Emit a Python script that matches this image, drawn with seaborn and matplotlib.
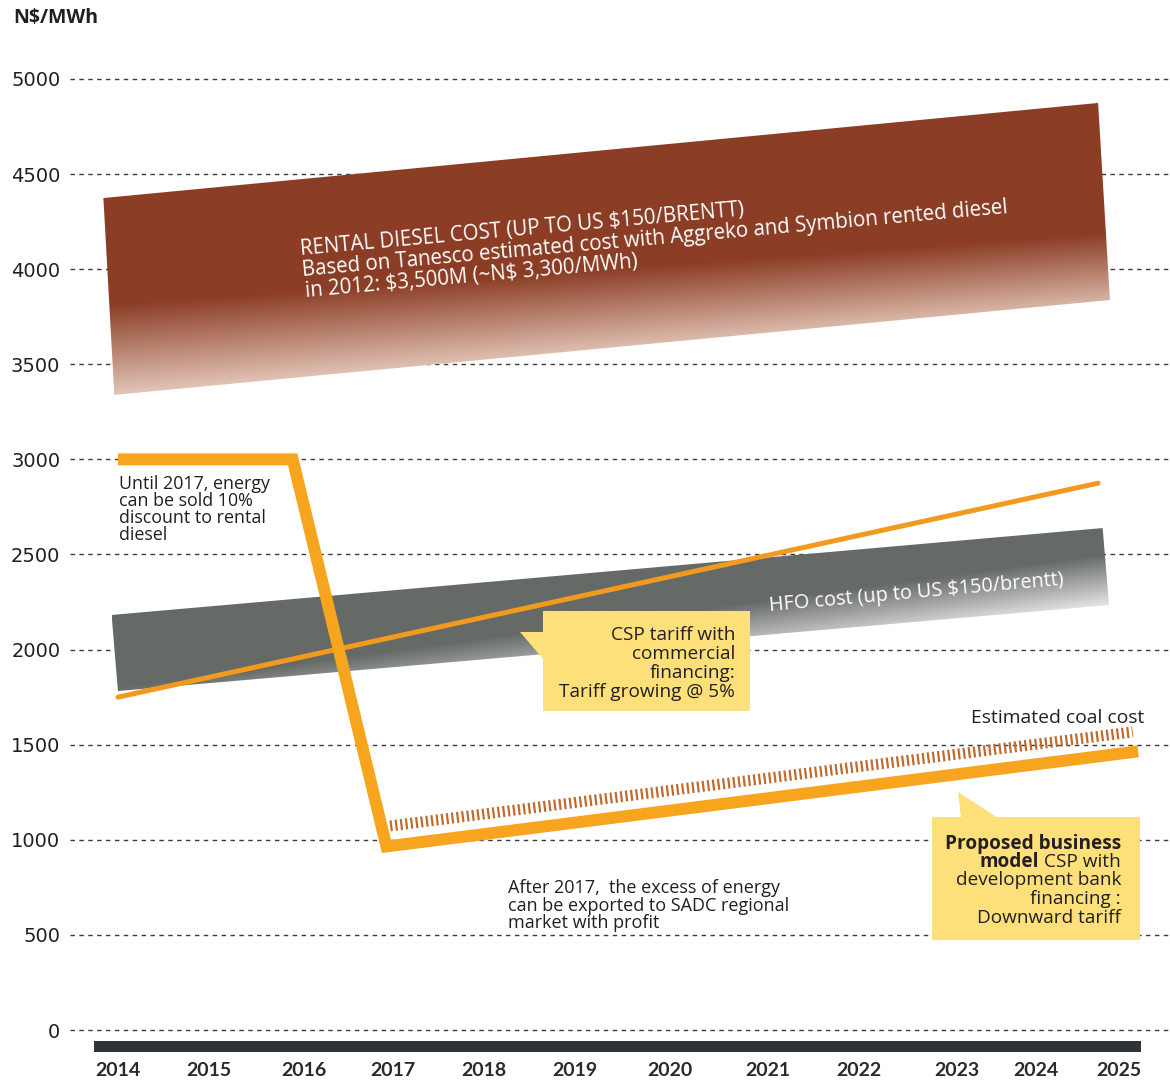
import numpy as np
import matplotlib
matplotlib.use('Agg')
import matplotlib.pyplot as plt
import seaborn as sns
from matplotlib.patches import Polygon, Rectangle
from matplotlib.colors import to_rgb

# ---------------- data ----------------
year_labels = ['2014', '2015', '2016', '2017', '2018', '2019', '2020',
               '2021', '2022', '2023', '2024', '2025']
year_tick_pos = [2014.0, 2015.0, 2016.04, 2017.02, 2018.02, 2019.02, 2020.07,
                 2021.14, 2022.14, 2023.22, 2024.09, 2025.0]
y_ticks = [0, 500, 1000, 1500, 2000, 2500, 3000, 3500, 4000, 4500, 5000]

# CSP with development bank financing (thick orange)
csp_dev_x = [2014.0, 2015.92, 2016.95, 2025.21]
csp_dev_y = [3000, 3000, 965, 1465]
# CSP with commercial financing (thin orange)
csp_com_x = [2014.0, 2024.77]
csp_com_y = [1750, 2875]
# Estimated coal cost (striped)
coal_x = [2016.99, 2025.15]
coal_y = [1073, 1567]
# Rental diesel cost band (polygon corners)
diesel_x = [2013.84, 2024.77, 2024.90, 2013.96]
diesel_y = [4374, 4874, 3838, 3339]
# HFO cost band (polygon corners)
hfo_x = [2013.93, 2024.82, 2024.89, 2014.0]
hfo_y = [2182, 2639, 2234, 1782]

# ---------------- style ----------------
W, H = 1170, 1081
TXT = '#231F20'
sns.set_theme(style='white')
plt.rcParams['font.family'] = ['Open Sans', 'DejaVu Sans']

fig = plt.figure(figsize=(W / 100, H / 100), dpi=100)
ax = fig.add_axes([70 / W, (H - 1055) / H, 1100 / W, 995 / H])


def dx(px):
    return 2014 + (px - 118) / 91.0


def dy(py):
    return (1030 - py) / 0.1902


def ft(x, y, s, **kw):
    kw.setdefault('parse_math', False)
    return fig.text(x / W, 1 - y / H, s, **kw)


def gradient_band(px, py, base, light, line0, line1, z):
    poly = Polygon(np.column_stack([px, py]), closed=True,
                   facecolor='none', edgecolor='none')
    ax.add_patch(poly)
    x0, x1 = min(px), max(px)
    y0, y1 = min(py), max(py)
    xs = np.linspace(x0, x1, 400)
    ys = np.linspace(y0, y1, 400)
    X, Y = np.meshgrid(xs, ys)

    def lin(l, X):
        (xa, ya), (xb, yb) = l
        return ya + (yb - ya) * (X - xa) / (xb - xa)
    L0 = lin(line0, X)
    L1 = lin(line1, X)
    f = np.clip((L0 - Y) / (L0 - L1), 0, 1)
    b = np.array(to_rgb(base))
    l = np.array(to_rgb(light))
    img = b[None, None, :] * (1 - f[..., None]) + l[None, None, :] * f[..., None]
    im = ax.imshow(img, extent=(x0, x1, y0, y1), origin='lower',
                   aspect='auto', zorder=z, interpolation='bilinear')
    im.set_clip_path(poly)


# bands
gradient_band(diesel_x, diesel_y, '#8B3D25', '#ECD3C6',
              ((2014, 3820), (2024.9, 4190)), ((2014, 3290), (2024.9, 3740)), 2)
gradient_band(hfo_x, hfo_y, '#656A67', '#F4F4F4',
              ((2014, 1800), (2024.9, 2500)), ((2014, 1450), (2024.9, 2200)), 2)

# lines
sns.lineplot(x=csp_com_x, y=csp_com_y, ax=ax, color='#F29A1E', lw=3.6,
             sort=False, estimator=None, zorder=4)
sns.lineplot(x=coal_x, y=coal_y, ax=ax, color='#BF6A2E', lw=7.9,
             ls=(0, (0.2, 0.27)), sort=False, estimator=None, zorder=4)
sns.lineplot(x=csp_dev_x, y=csp_dev_y, ax=ax, color='#F7A51F', lw=8.6,
             sort=False, estimator=None, zorder=5,
             solid_joinstyle='miter', solid_capstyle='butt')

# axes cosmetics
ax.set_xlim(2013.473, 2025.560)
ax.set_ylim(-131.4, 5099.8)
for s in ax.spines.values():
    s.set_visible(False)
ax.set_yticks(y_ticks)
ax.set_yticklabels([str(v) for v in y_ticks], fontsize=14, color=TXT,
                   family=['DejaVu Sans'])
ax.tick_params(axis='y', length=0, pad=7)
ax.set_xticks(year_tick_pos)
ax.set_xticklabels(year_labels, fontsize=14, fontweight='bold', color='#2A2A2A',
                   family=['Lato', 'DejaVu Sans'])
ax.tick_params(axis='x', length=0, pad=5)
ax.yaxis.grid(True, color='#3A3A3A', lw=1.0, ls=(0, (3.2, 3.2)))
ax.xaxis.grid(False)
ax.set_axisbelow(True)
ax.set_xlabel('')
ax.set_ylabel('')
if ax.get_legend():
    ax.get_legend().remove()

# bottom bar
ax.add_patch(Rectangle((dx(94), dy(1052)), dx(1141) - dx(94), dy(1041) - dy(1052),
                       facecolor='#2E3336', edgecolor='none', clip_on=False, zorder=3))

# callouts
YEL = '#FEE07A'
ax.add_patch(Rectangle((dx(543), dy(711)), dx(750) - dx(543), dy(611) - dy(711),
                       facecolor=YEL, edgecolor='none', zorder=6))
ax.add_patch(Polygon([(dx(520), dy(632)), (dx(544), dy(632)), (dx(544), dy(660))],
                     closed=True, facecolor=YEL, edgecolor='none', zorder=6))
ax.add_patch(Rectangle((dx(932), dy(940)), dx(1140) - dx(932), dy(817) - dy(940),
                       facecolor=YEL, edgecolor='none', zorder=6))
ax.add_patch(Polygon([(dx(958), dy(792)), (dx(961), dy(818)), (dx(998), dy(818))],
                     closed=True, facecolor=YEL, edgecolor='none', zorder=6))

# texts
ft(13, 23, 'N$/MWh', fontsize=14, fontweight='bold', color=TXT, va='baseline')

rot = 5.1
for (x, y, s) in [(301, 255, 'RENTAL DIESEL COST (UP TO US $150/BRENTT)'),
                  (303, 276, 'Based on Tanesco estimated cost with Aggreko and Symbion rented diesel'),
                  (306, 297, 'in 2012: $3,500M (~N$ 3,300/MWh)')]:
    ft(x, y, s, fontsize=14.8, color='white', rotation=rot, rotation_mode='anchor',
       ha='left', va='baseline', zorder=7)
ft(770, 611, 'HFO cost (up to US $150/brentt)', fontsize=14.3, color='white',
   rotation=rot, rotation_mode='anchor', ha='left', va='baseline')

FS = 13.7
for y, s in zip([640, 659, 678, 697],
                ['CSP tariff with', 'commercial', 'financing:', 'Tariff growing @ 5%']):
    ft(735, y, s, fontsize=FS, color=TXT, ha='right', va='baseline', zorder=8)

ft(1121, 849, 'Proposed business', fontsize=FS, fontweight='bold', color=TXT,
   ha='right', va='baseline')
t_csp = ft(1121, 867, 'CSP with', fontsize=FS, color=TXT, ha='right', va='baseline')
for y, s in zip([885, 904, 923], ['development bank', 'financing :', 'Downward tariff']):
    ft(1121, y, s, fontsize=FS, color=TXT, ha='right', va='baseline')

ft(971, 723, 'Estimated coal cost', fontsize=13.9, color=TXT, ha='left', va='baseline')

for y, s in zip([489, 506, 523, 540],
                ['Until 2017, energy', 'can be sold 10%', 'discount to rental', 'diesel']):
    ft(119, y, s, fontsize=12.9, color=TXT, ha='left', va='baseline')
for y, s in zip([893, 911, 928],
                ['After 2017,  the excess of energy', 'can be exported to SADC regional',
                 'market with profit']):
    ft(508, y, s, fontsize=13.0, color=TXT, ha='left', va='baseline')

fig.canvas.draw()
bb = t_csp.get_window_extent()
fig.text((bb.x0 - 5) / W, 1 - 867 / H, 'model', fontsize=FS, fontweight='bold',
         color=TXT, ha='right', va='baseline')

fig.savefig('out.png', dpi=100)
